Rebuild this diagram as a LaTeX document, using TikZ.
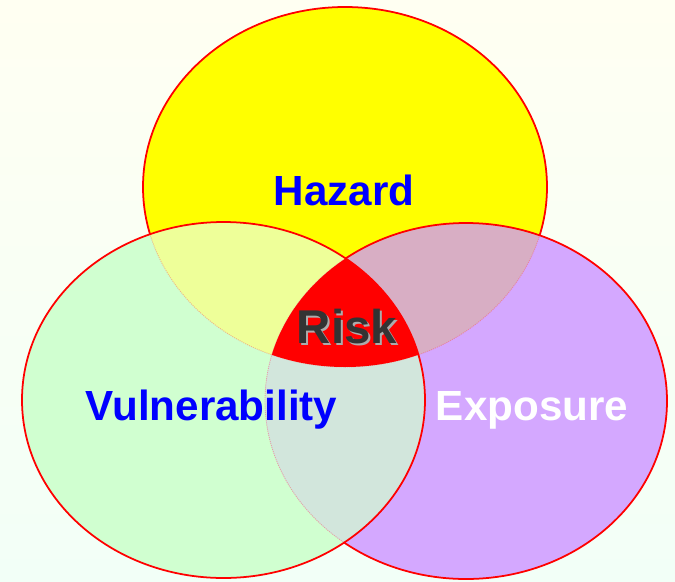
\documentclass[tikz,border=0pt]{standalone}
\usepackage{fontspec}
\setmainfont{Liberation Sans}
\usepackage{xcolor}
\usepackage{tikz}

\definecolor{bgtop}{HTML}{FFFFF2}
\definecolor{bgbot}{HTML}{F2FFF7}
\definecolor{hazardfill}{HTML}{FFFF00}
\definecolor{vulnfill}{HTML}{D0FFD0}
\definecolor{exposurefill}{HTML}{D4A8FF}
\definecolor{hvfill}{HTML}{EEFF99}
\definecolor{hefill}{HTML}{D8AEC4}
\definecolor{vefill}{HTML}{D2E6DC}
\definecolor{riskgray}{HTML}{333333}

% the three sets
\newcommand{\hazardset}{(345,187) ellipse [x radius=202, y radius=180]}
\newcommand{\vulnset}{(223.5,400) ellipse [x radius=201.5, y radius=178]}
\newcommand{\exposureset}{(466,401) ellipse [x radius=201, y radius=178]}

\begin{document}
\begin{tikzpicture}[
    x=0.02cm, y=-0.02cm,
    every node/.style={anchor=base, font=\fontsize{24}{28}\selectfont\bfseries},
    outline/.style={draw=red, line width=1pt},
    faint/.style={draw=red!70, line width=0.5pt, opacity=0.4, dash pattern=on 0.6pt off 0.6pt}
]

% Background
\useasboundingbox (0,0) rectangle (675,581);
\fill[top color=bgtop, bottom color=bgbot] (0,0) rectangle (675,581);

% Base fills
\fill[hazardfill] \hazardset;
\fill[vulnfill] \vulnset;
\fill[exposurefill] \exposureset;

% Pairwise overlaps
\begin{scope}
  \clip \hazardset;
  \fill[hvfill] \vulnset;
  \fill[hefill] \exposureset;
\end{scope}
\begin{scope}
  \clip \vulnset;
  \fill[vefill] \exposureset;
\end{scope}

% Hidden arcs
\draw[faint] \hazardset;
\draw[faint] \exposureset;

% Triple overlap
\begin{scope}
  \clip \vulnset;
  \clip \hazardset;
  \fill[red] \exposureset;
\end{scope}

% Visible outlines
\draw[outline] \vulnset;
\begin{scope}[even odd rule]
  \clip (-10,-10) rectangle (690,600) \vulnset;
  \draw[outline] \exposureset;
  \clip (-10,-10) rectangle (690,600) \exposureset;
  \draw[outline] \hazardset;
\end{scope}

% Labels
\node[text=blue] (hazard) at (344,205) {Hazard};
\node[text=blue] (vulnerability) at (211.5,420) {Vulnerability};
\node[text=white] (exposure) at (532,420) {Exposure};
\node[text=gray!65, font=\fontsize{27}{30}\selectfont\bfseries] (riskshadow) at (349,345) {Risk};
\node[text=riskgray, font=\fontsize{27}{30}\selectfont\bfseries] (risk) at (347,343) {Risk};

\end{tikzpicture}
\end{document}
